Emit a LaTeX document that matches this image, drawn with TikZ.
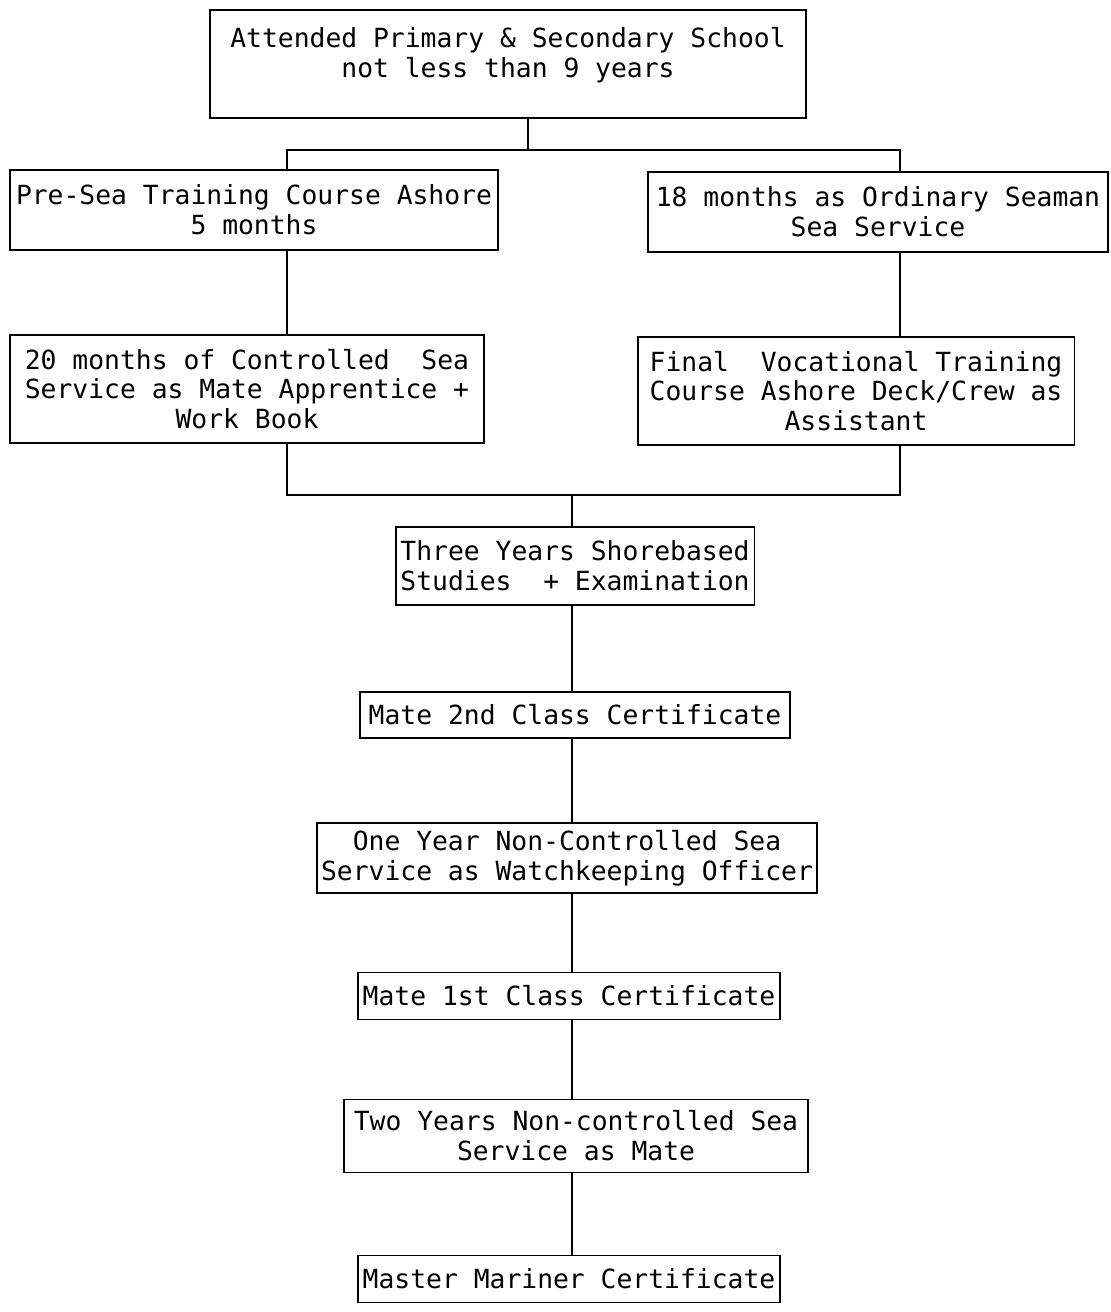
\documentclass[tikz,border=0pt]{standalone}
\usepackage{fontspec}
\setmonofont{DejaVu Sans Mono}
\usetikzlibrary{positioning}

\begin{document}
\begin{tikzpicture}[
  x=0.02cm, y=-0.02cm,
  font=\ttfamily\fontsize{15}{17}\selectfont,
  stage/.style={draw, line width=1.1pt, align=center, inner sep=0pt},
  link/.style={line width=1.1pt}
]
\useasboundingbox (0,0) rectangle (1111,1312);

% Entry and the two routes
\node[stage, minimum width=11.92cm, minimum height=2.16cm, text depth=0.45cm] (school) at (508,64)
  {Attended Primary \& Secondary School\\not less than 9 years};
\node[stage, minimum width=9.76cm, minimum height=1.6cm] (presea) at (254,210)
  {Pre-Sea Training Course Ashore\\5 months};
\node[stage, minimum width=9.2cm, minimum height=1.6cm] (seaman) at (878,212)
  {18 months as Ordinary Seaman\\Sea Service};
\node[stage, minimum width=9.5cm, minimum height=2.16cm] (months) at (247,389)
  {20 months of Controlled\ \ Sea\\Service as Mate Apprentice +\\Work Book};
\node[stage, minimum width=8.74cm, minimum height=2.16cm] (final) at (856,391)
  {Final\ \ Vocational Training\\Course Ashore Deck/Crew as\\Assistant};

% Main chain
\node[stage, minimum width=7.18cm, minimum height=1.56cm] (studies) at (575,566)
  {Three Years Shorebased\\Studies\ \ + Examination};
\node[stage, minimum width=8.6cm, minimum height=0.92cm] (mate2) at (575,715)
  {Mate 2nd Class Certificate};
\node[stage, minimum width=10.02cm, minimum height=1.4cm] (watch) at (567,858)
  {One Year Non-Controlled Sea\\Service as Watchkeeping Officer};
\node[stage, minimum width=8.44cm, minimum height=0.94cm] (mate1) at (569,996)
  {Mate 1st Class Certificate};
\node[stage, minimum width=9.28cm, minimum height=1.46cm] (twoyears) at (576,1136)
  {Two Years Non-controlled Sea\\Service as Mate};
\node[stage, minimum width=8.44cm, minimum height=0.94cm] (master) at (569,1279)
  {Master Mariner Certificate};

% Split after school
\coordinate (split) at (528,150);
\coordinate (lsplit) at (287,150);
\coordinate (rsplit) at (900,150);
\draw[link] (split |- school.south) -- (split);
\draw[link] (lsplit |- presea.north) -- (lsplit) -- (rsplit) -- (rsplit |- seaman.north);
\draw[link] (lsplit |- presea.south) -- (lsplit |- months.north);
\draw[link] (rsplit |- seaman.south) -- (rsplit |- final.north);

% Merge into studies
\coordinate (merge) at (572,495);
\draw[link] (lsplit |- months.south) -- (lsplit |- merge) -- (rsplit |- merge) -- (rsplit |- final.south);
\draw[link] (merge) -- (merge |- studies.north);

% Chain down to master
\draw[link] (merge |- studies.south) -- (merge |- mate2.north);
\draw[link] (merge |- mate2.south) -- (merge |- watch.north);
\draw[link] (merge |- watch.south) -- (merge |- mate1.north);
\draw[link] (merge |- mate1.south) -- (merge |- twoyears.north);
\draw[link] (merge |- twoyears.south) -- (merge |- master.north);

\end{tikzpicture}
\end{document}
